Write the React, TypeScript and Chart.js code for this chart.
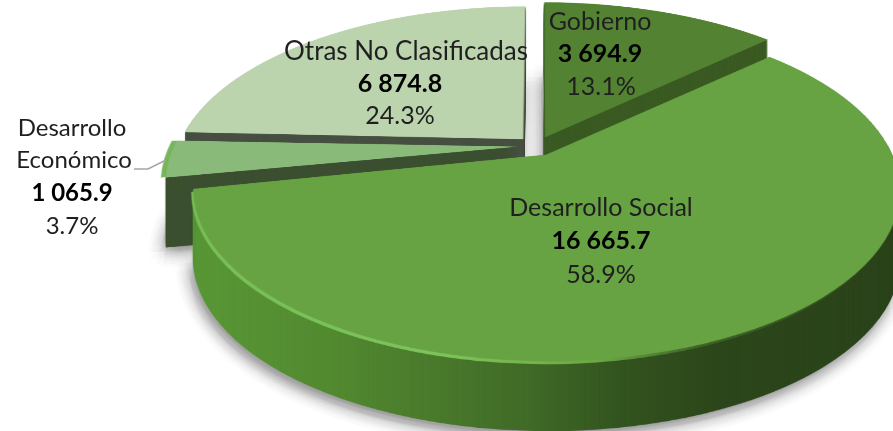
import React, { useEffect, useRef } from "react";
import { Chart, registerables } from "chart.js";

Chart.register(...registerables);

const categories = ["Gobierno", "Desarrollo Social", "Desarrollo Económico", "Otras No Clasificadas"];
const amounts = [3694.9, 16665.7, 1065.9, 6874.8];
const shares = ["13.1%", "58.9%", "3.7%", "24.3%"];
const faceColors = ["#538233", "#67a243", "#8aba79", "#bcd4ae"];
const wallColors = ["#3a5a22", "#3f6526", "#3b4f30", "#464f41"];
const radiusBoost = [1.08, 1, 1.015, 1.07];
const drawOrder = [3, 2, 0, 1];

const W = 893;
const H = 431;
const CX = 537;
const CY = 146;
const PERSP = 0.19;
const AY = 152;
const RX = 323;
const DEPTH = 70;
const SS = 2;

const fmt = (n: number) => {
  const [a, b] = n.toFixed(1).split(".");
  return a.replace(/\B(?=(\d{3})+$)/g, " ") + "." + b;
};

const newCanvas = (w: number, h: number) => {
  const c = document.createElement("canvas");
  c.width = w;
  c.height = h;
  return c;
};

function projectArc(arc: any, boost: number): HTMLCanvasElement {
  const extra = (arc.options.offset || 0) / 4;
  const rOut = arc.outerRadius + extra;
  const unit = rOut / 1.06;
  const half = Math.ceil((rOut + extra) * 1.12 + 4);
  const S = half * 2 * SS;
  const flat = newCanvas(S, S);
  const f = flat.getContext("2d")!;
  const mid = (arc.startAngle + arc.endAngle) / 2;
  const ax = Math.cos(mid) * extra;
  const ay = Math.sin(mid) * extra;
  f.scale(SS, SS);
  f.translate(half, half);
  f.translate(ax, ay);
  f.scale(boost, boost);
  f.translate(-ax, -ay);
  f.translate(-arc.x, -arc.y);
  arc.draw(f);

  const out = newCanvas(W, H);
  const o = out.getContext("2d")!;
  o.imageSmoothingEnabled = true;
  o.imageSmoothingQuality = "high";
  const toV = (y: number) => {
    const t = y - CY;
    return t / (AY + PERSP * t);
  };
  for (let y = 0; y < H; y++) {
    const v0 = toV(y);
    const v1 = toV(y + 1);
    const sy0 = (half + v0 * unit) * SS;
    const sy1 = (half + v1 * unit) * SS;
    if (sy1 <= 0 || sy0 >= S) continue;
    const scale = RX / (1 - PERSP * (v0 + v1) / 2) / unit / SS;
    o.drawImage(flat, 0, sy0, S, sy1 - sy0, CX - (S / 2) * scale, y, S * scale, 1);
  }
  return out;
}

function tint(mask: HTMLCanvasElement, fill: string | CanvasGradient): HTMLCanvasElement {
  const c = newCanvas(W, H);
  const g = c.getContext("2d")!;
  g.drawImage(mask, 0, 0);
  g.globalCompositeOperation = "source-in";
  g.fillStyle = fill;
  g.fillRect(0, 0, W, H);
  return c;
}

const xGradient = (stops: [number, string][]) => {
  const g = newCanvas(1, 1).getContext("2d")!.createLinearGradient(0, 0, W, 0);
  stops.forEach(([x, col]) => g.addColorStop(x / W, col));
  return g;
};

const pieExtrude = {
  id: "pieExtrude",
  beforeDatasetsDraw(chart: any) {
    const ctx: CanvasRenderingContext2D = chart.ctx;
    const arcs = chart.getDatasetMeta(0).data;
    const masks = arcs.map((a: any, i: number) => projectArc(a, radiusBoost[i]));

    const wallFill = (i: number) =>
      i === 1
        ? xGradient([
            [190, "#5a9837"],
            [330, "#528a30"],
            [430, "#4a7a2c"],
            [530, "#406a27"],
            [620, "#33541f"],
            [720, "#2c461b"],
            [893, "#2b431a"],
          ])
        : wallColors[i];

    ctx.save();
    // soft cast shadow under the whole pie: stacked translucent copies
    const shadowLayer = newCanvas(W, H);
    const sl = shadowLayer.getContext("2d")!;
    drawOrder.forEach((i) => sl.drawImage(masks[i], 0, DEPTH));
    const shadowInk = tint(shadowLayer, "#202020");
    ctx.save();
    const rings = [3, 6, 9, 12, 15];
    const steps = 12;
    ctx.globalAlpha = 0.012;
    rings.forEach((r) => {
      for (let k = 0; k < steps; k++) {
        const a = (k / steps) * Math.PI * 2;
        ctx.drawImage(shadowInk, -3 + Math.cos(a) * r, 5 + Math.sin(a) * r);
      }
    });
    ctx.restore();
    // walls and faces, back to front
    drawOrder.forEach((i) => {
      const wall = tint(masks[i], wallFill(i));
      for (let d = DEPTH; d >= 1; d--) ctx.drawImage(wall, 0, d);
      if (i === 1) {
        const rim = tint(
          masks[i],
          xGradient([
            [190, "#78bd55"],
            [450, "#7cc45a"],
            [600, "#6aa845"],
            [700, "#3f6526"],
            [893, "#2f4a1d"],
          ])
        );
        ctx.drawImage(rim, -2, 3);
      }
      if (i === 2) {
        ctx.drawImage(tint(masks[i], "#75b65a"), -5, 0);
      }
      ctx.drawImage(masks[i], 0, 0);
    });
    ctx.restore();
    return false;
  },
  afterDraw(chart: any) {
    const ctx: CanvasRenderingContext2D = chart.ctx;
    ctx.save();
    ctx.strokeStyle = "#a6a6a6";
    ctx.lineWidth = 1.5;
    ctx.beginPath();
    ctx.moveTo(134, 169);
    ctx.lineTo(148, 169);
    ctx.lineTo(166, 160);
    ctx.stroke();

    ctx.textAlign = "center";
    ctx.textBaseline = "middle";
    const put = (t: string, x: number, y: number, size: number, b = false) => {
      ctx.font = `${b ? "bold " : ""}${size}px Lato`;
      ctx.fillStyle = b ? "#000000" : "#1f1f1f";
      ctx.fillText(t, x, y);
    };
    put(categories[0], 600, 22, 25);
    put(fmt(amounts[0]), 600, 54, 25, true);
    put(shares[0], 601, 87, 25);

    put(categories[1], 601, 208, 25);
    put(fmt(amounts[1]), 601, 241, 25, true);
    put(shares[1], 601, 275, 25);

    const [l1, l2] = categories[2].split(" ");
    put(l1, 72, 128, 24);
    put(l2, 74, 160, 24);
    put(fmt(amounts[2]), 72, 193, 24, true);
    put(shares[2], 72, 226, 24);

    put(categories[3], 406, 52, 26);
    put(fmt(amounts[3]), 400, 84, 25, true);
    put(shares[3], 400, 116, 25);
    ctx.restore();
  },
};

export default function App() {
  const ref = useRef<HTMLCanvasElement | null>(null);
  useEffect(() => {
    document.body.style.margin = "0";
    document.body.style.background = "#fff";
    const chart = new Chart(ref.current!, {
      type: "pie",
      data: {
        labels: categories,
        datasets: [
          {
            data: amounts,
            backgroundColor: faceColors,
            borderWidth: 0,
            offset: 48,
          },
        ],
      },
      options: {
        responsive: false,
        animation: false,
        layout: { padding: 0 },
        plugins: { legend: { display: false }, tooltip: { enabled: false } },
      },
      plugins: [pieExtrude],
    } as any);
    return () => chart.destroy();
  }, []);
  return (
    <canvas
      ref={ref}
      width={W}
      height={H}
      style={{ display: "block", width: W, height: H, filter: "blur(0.5px)" }}
    />
  );
}
